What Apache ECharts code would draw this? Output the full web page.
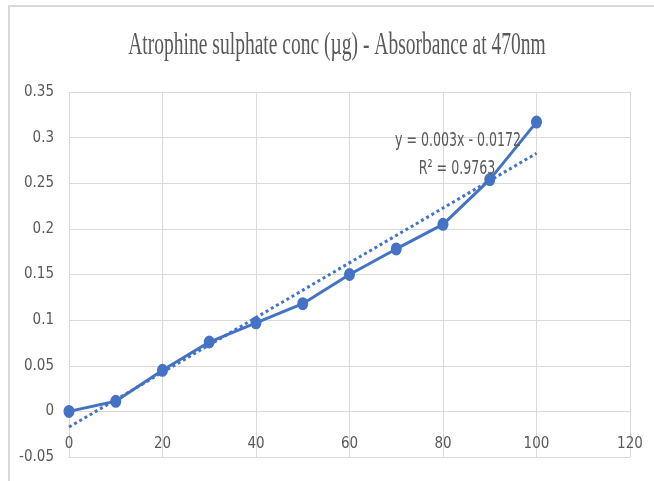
<!DOCTYPE html>
<html>
<head>
<meta charset="utf-8">
<script src="https://cdn.jsdelivr.net/npm/echarts@6/dist/echarts.min.js"></script>
<style>
html,body{margin:0;padding:0;background:#fff;}
#chart{width:654px;height:481px;}
</style>
</head>
<body>
<div id="chart"></div>
<script>
// ---- data ----
var concentrations = [0, 10, 20, 30, 40, 50, 60, 70, 80, 90, 100];
var absorbance = [0, 0.011, 0.045, 0.076, 0.097, 0.118, 0.15, 0.178, 0.205, 0.254, 0.317];
var titleText = 'Atrophine sulphate conc (\u00b5g) - Absorbance at 470nm';
var trendSlope = 0.003;
var trendIntercept = -0.0172;
var rSquared = 0.9763;
var xTicks = [0, 20, 40, 60, 80, 100, 120];
var yTicks = [-0.05, 0, 0.05, 0.1, 0.15, 0.2, 0.25, 0.3, 0.35];

var mainData = concentrations.map(function (c, i) { return [c, absorbance[i]]; });
var xFirst = concentrations[0], xLast = concentrations[concentrations.length - 1];
var trendData = [[xFirst, trendSlope * xFirst + trendIntercept], [xLast, trendSlope * xLast + trendIntercept]];

var labelFont = "'DejaVu Sans Condensed', 'Liberation Sans', sans-serif";
var blue = '#4472C4';
var grey = '#595959';

var chart = echarts.init(document.getElementById('chart'), null, {renderer: 'canvas'});
chart.setOption({
  backgroundColor: '#ffffff',
  animation: false,
  grid: {left: 69, top: 92, right: 24, bottom: 24, containLabel: false, outerBoundsMode: 'none'},
  xAxis: {
    type: 'value',
    position: 'bottom',
    min: xTicks[0], max: xTicks[xTicks.length - 1], interval: xTicks[1] - xTicks[0],
    axisLine: {show: true, onZero: false, lineStyle: {color: '#d9d9d9', width: 1}},
    axisTick: {show: false},
    axisLabel: {color: grey, fontSize: 15, fontFamily: labelFont, margin: -20, showMinLabel: true, showMaxLabel: true},
    splitLine: {show: true, lineStyle: {color: '#d9d9d9', width: 1}}
  },
  yAxis: {
    type: 'value',
    min: yTicks[0], max: yTicks[yTicks.length - 1], interval: yTicks[1] - yTicks[0],
    axisLine: {show: false},
    axisTick: {show: false},
    axisLabel: {color: grey, fontSize: 15, fontFamily: labelFont, margin: 15,
      formatter: function (v) { return String(Math.round(v * 100) / 100); }},
    splitLine: {show: true, lineStyle: {color: '#d9d9d9', width: 1}}
  },
  series: [
    {
      type: 'line',
      data: mainData,
      symbol: 'circle',
      symbolSize: [11, 13],
      itemStyle: {color: blue},
      lineStyle: {color: blue, width: 3},
      z: 3
    },
    {
      type: 'line',
      data: trendData,
      symbol: 'none',
      lineStyle: {color: blue, width: 3, type: [3, 3]},
      z: 4,
      silent: true
    }
  ],
  graphic: [
    {
      type: 'rect',
      shape: {x: 9, y: 6, width: 700, height: 520},
      style: {fill: 'none', stroke: '#d9d9d9', lineWidth: 2},
      silent: true,
      z: 0
    },
    {
      type: 'text',
      x: 337, y: 46,
      scaleX: 0.63,
      style: {text: titleText, font: "31px 'Liberation Serif', 'Times New Roman', serif", fill: grey,
        textAlign: 'center', textVerticalAlign: 'middle'},
      z: 10
    },
    {
      type: 'text',
      x: 458, y: 141,
      scaleX: 0.7,
      style: {text: 'y = ' + trendSlope + 'x - ' + Math.abs(trendIntercept), font: '20px ' + labelFont, fill: grey,
        textAlign: 'center', textVerticalAlign: 'middle'},
      z: 10
    },
    {
      type: 'text',
      x: 457, y: 169,
      scaleX: 0.7,
      style: {text: 'R\u00b2 = ' + rSquared, font: '20px ' + labelFont, fill: grey,
        textAlign: 'center', textVerticalAlign: 'middle'},
      z: 10
    }
  ]
});
</script>
</body>
</html>
